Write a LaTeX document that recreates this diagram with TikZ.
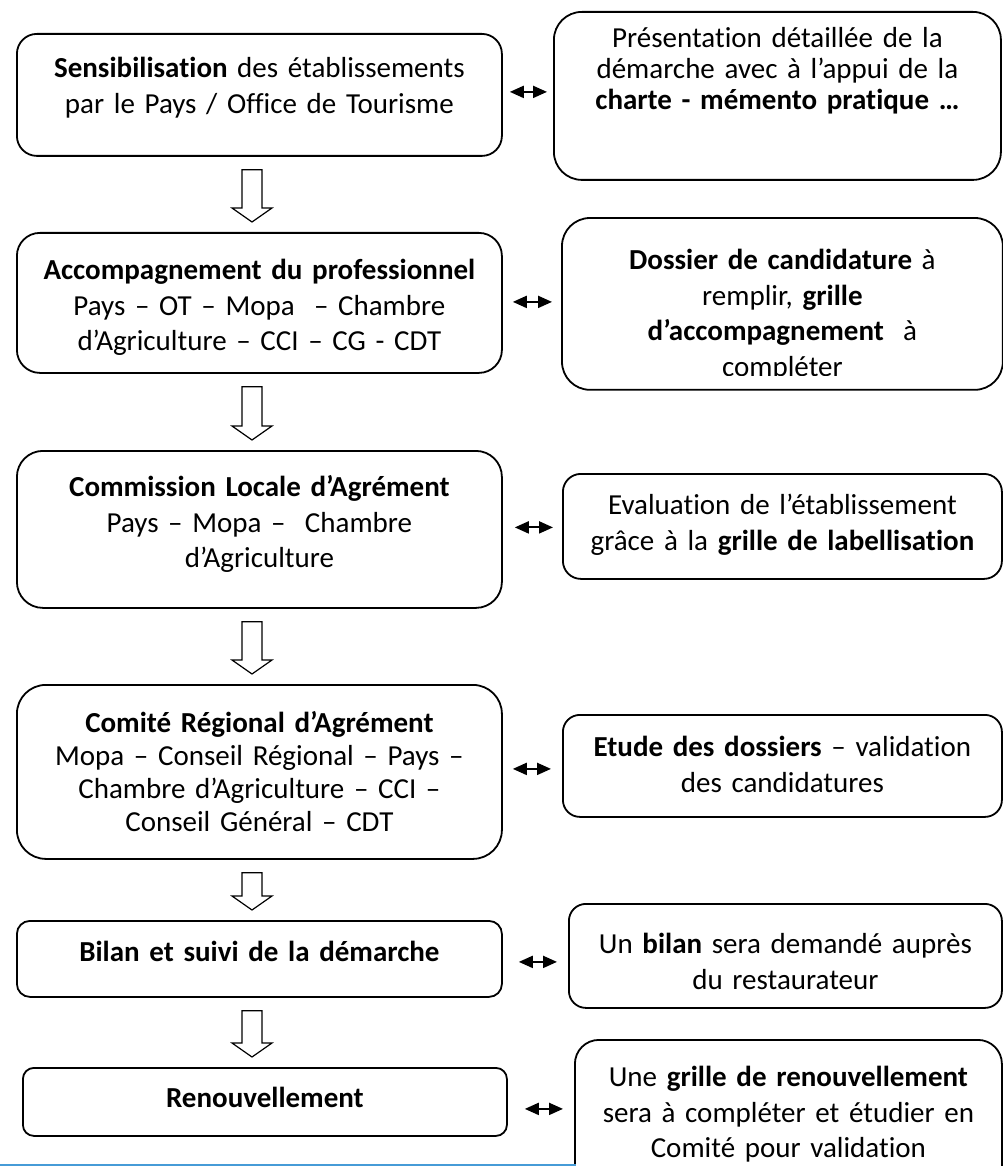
\documentclass[tikz,border=0pt]{standalone}
\usepackage{fontspec}
\setmainfont{Carlito}[RawFeature={-liga;-clig;-dlig}]
\usetikzlibrary{arrows.meta,calc}
\definecolor{bleupage}{RGB}{70,155,215}
\tikzset{
	etape/.style={draw, line width=0.9pt, rounded corners=#1, anchor=north west, inner sep=0pt,
		align=center, font=\fontsize{14.5}{17.7}\selectfont},
	etape/.default=10pt,
	liaison/.style={line width=1pt, {Triangle[length=7pt,width=6pt]}-{Triangle[length=7pt,width=6pt]}},
	creuse/.style={draw, line width=0.6pt, fill=white, line join=miter}
}
\begin{document}
\begin{tikzpicture}[x=0.5pt,y=-0.5pt]
\useasboundingbox (0,0) rectangle (1002,1166);
\coordinate (axe) at (252,0);

% etapes, colonne de gauche
\node[etape=10pt, text width=242.5pt, text height=22pt, text depth=39pt] (sensi) at (16,33)
	{\textbf{Sensibilisation} des établissements\\par le Pays / Office de Tourisme};
\node[etape=11.5pt, text width=242.5pt, text height=23.5pt, text depth=46.5pt] (accomp) at (16,232)
	{\textbf{Accompagnement du professionnel}\\Pays – OT – Mopa~ – Chambre\\d’Agriculture – CCI – CG - CDT};
\node[etape=13pt, text width=242.5pt, text height=23pt, text depth=55.5pt] (commission) at (16,450)
	{\textbf{Commission Locale d’Agrément}\\Pays – Mopa –~ Chambre\\d’Agriculture};
\node[etape=14.5pt, text width=242.5pt, text height=24pt, text depth=63pt,
	font=\fontsize{14.5}{16.5}\selectfont] (comite) at (16,684)
	{\textbf{Comité Régional d’Agrément}\\Mopa – Conseil Régional – Pays –\\Chambre d’Agriculture – CCI –\\Conseil Général – CDT};
\node[etape=6.5pt, text width=242.5pt, text height=20.5pt, text depth=17.5pt] (bilan) at (16,920)
	{\textbf{Bilan et suivi de la démarche}};
\node[etape=5.5pt, text width=242pt, text height=20pt, text depth=14pt] (renouv) at (22,1067)
	{\textbf{Renouvellement}};

% outils, colonne de droite
\node[etape=14pt, text width=223.5pt, text height=18pt, text depth=66pt,
	font=\fontsize{14.5}{15.5}\selectfont] (presentation) at (553,11)
	{Présentation détaillée de la\\démarche avec à l’appui de la\\\textbf{charte - mémento pratique …}};
\begin{scope}
\clip (540,200) rectangle (1010,375);
\node[etape=14pt, draw=none, text width=219.5pt, text height=25.5pt, text depth=59.5pt] (dossier) at (562,218)
	{\textbf{Dossier de candidature} à\\remplir, \textbf{grille}\\\textbf{d’accompagnement}~ à\\compléter};
\end{scope}
\draw[line width=0.9pt, rounded corners=14pt] (dossier.south west) rectangle (dossier.north east);
\node[etape=9pt, text width=219.5pt, text height=20.5pt, text depth=32pt] (evaluation) at (562,473)
	{Evaluation de l’établissement\\grâce à la \textbf{grille de labellisation}};
\node[etape=8.5pt, text width=219.5pt, text height=21pt, text depth=30pt] (etude) at (562,714)
	{\textbf{Etude des dossiers} – validation\\des candidatures};
\node[etape=8.5pt, text width=216.5pt, text height=25pt, text depth=27pt] (restaurateur) at (568,903)
	{Un \textbf{bilan} sera demandé auprès\\du restaurateur};
\node[etape=12pt, text width=213.5pt, text height=23.5pt, text depth=52pt] (grille) at (574,1039)
	{Une \textbf{grille de renouvellement}\\sera à compléter et étudier en\\Comité pour validation};

% fleches creuses entre les etapes
\foreach \a/\b in {sensi/accomp, accomp/commission, commission/comite, comite/bilan, bilan/renouv}
	\draw[creuse] let \p1=(\a.south -| axe), \p2=(\b.north -| axe) in
		({\x1-5pt},{\y1-6.5pt}) -- ({\x1+5pt},{\y1-6.5pt}) -- ({\x1+5pt},{\y2+12pt})
		-- ({\x1+10pt},{\y2+12pt}) -- (\x1,{\y2+5pt}) -- ({\x1-10pt},{\y2+12pt})
		-- ({\x1-5pt},{\y2+12pt}) -- cycle;

% doubles fleches vers les outils
\foreach \a/\b/\ga/\gb/\dy in {sensi/presentation/3.5pt/3pt/1.5pt, accomp/dossier/5pt/5pt/0.5pt,
		commission/evaluation/6pt/4.5pt/1pt, comite/etude/5pt/5.5pt/1.5pt,
		bilan/restaurateur/8pt/5.5pt/-1.5pt, renouv/grille/8.5pt/5.5pt/-3.5pt}
	\draw[liaison, shorten <=\ga, shorten >=\gb] ([yshift=\dy]\a.east) -- ([yshift=\dy]\a.east -| \b.west);

\draw[bleupage, line width=1pt] (0,1165) -- (576,1165);
\end{tikzpicture}
\end{document}
